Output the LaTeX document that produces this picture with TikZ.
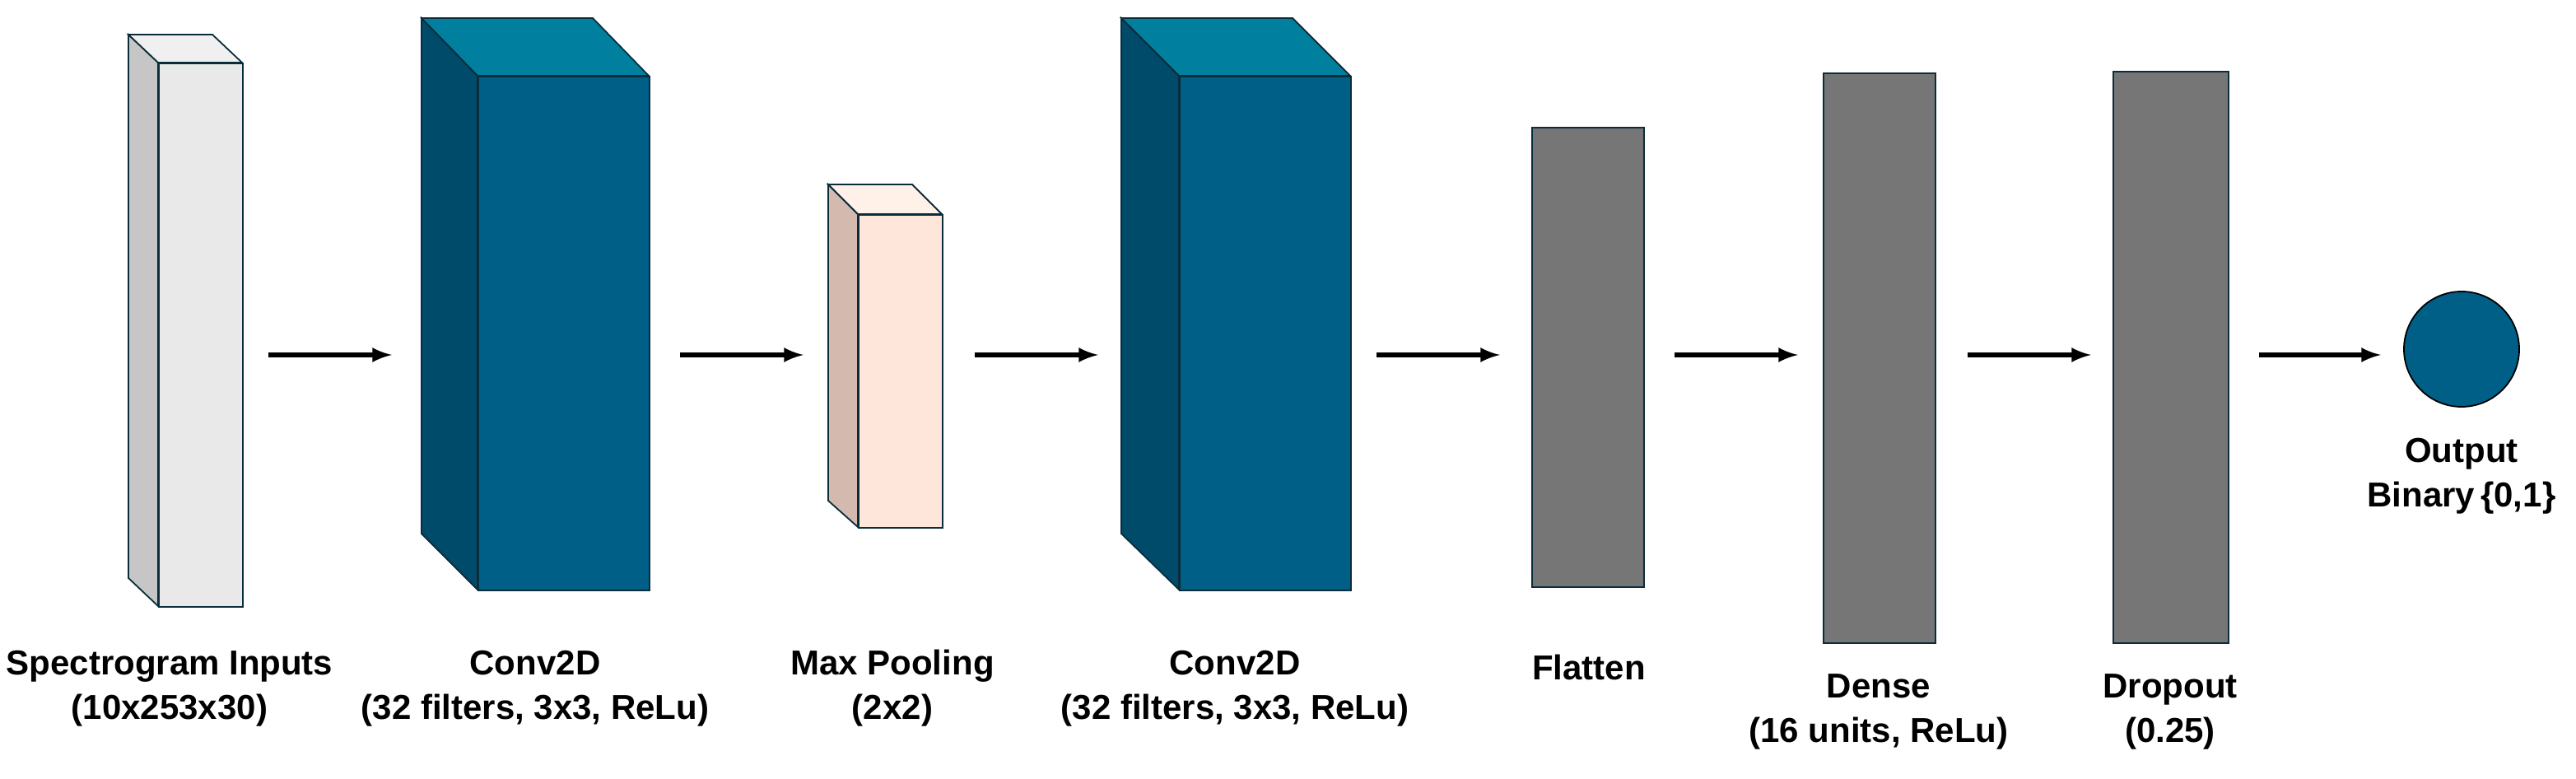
\documentclass[tikz,border=0pt]{standalone}
\usepackage{fontspec}
\setmainfont{Liberation Sans}
\begin{document}
\begin{tikzpicture}[x=1pt,y=-1pt,
 face/.style={draw={rgb,255:red,10;green,45;blue,60},line width=0.9pt},
 lbl/.style={font=\bfseries\fontsize{21}{27}\selectfont,align=center,anchor=center},
 arr/.style={-latex,line width=3pt}]
\definecolor{tf}{HTML}{00809E}\definecolor{ff}{HTML}{005F86}\definecolor{sf}{HTML}{004A6A}
\definecolor{gr}{HTML}{767676}
\useasboundingbox (0,0) rectangle (1564.5,473);
% input
\fill[gray!45,face] (78,21) -- (96,38) -- (96,368) -- (78,351) -- cycle;
\fill[gray!12,face] (78,21) -- (129,21) -- (147,38) -- (96,38) -- cycle;
\node[face,fill=gray!17,minimum width=51pt,minimum height=330pt,inner sep=0,anchor=north west] (in) at (96,38) {};
% conv1
\fill[sf,face] (256,11) -- (290,46) -- (290,358) -- (256,324) -- cycle;
\fill[tf,face] (256,11) -- (360,11) -- (394,46) -- (290,46) -- cycle;
\node[face,fill=ff,minimum width=104pt,minimum height=312pt,inner sep=0,anchor=north west] (c1) at (290,46) {};
% maxpool
\fill[fill={rgb,255:red,212;green,185;blue,175},face] (503,112) -- (521,130) -- (521,320) -- (503,304) -- cycle;
\fill[fill={rgb,255:red,255;green,240;blue,232},face] (503,112) -- (554,112) -- (572,130) -- (521,130) -- cycle;
\node[face,fill={rgb,255:red,255;green,230;blue,218},minimum width=51pt,minimum height=190pt,inner sep=0,anchor=north west] (mp) at (521,130) {};
% conv2
\fill[sf,face] (681,11) -- (716,46) -- (716,358) -- (681,324) -- cycle;
\fill[tf,face] (681,11) -- (785,11) -- (820,46) -- (716,46) -- cycle;
\node[face,fill=ff,minimum width=104pt,minimum height=312pt,inner sep=0,anchor=north west] (c2) at (716,46) {};
% flatten dense dropout
\node[face,fill=gr,minimum width=68pt,minimum height=279pt,inner sep=0,anchor=north west] (fl) at (930,77) {};
\node[face,fill=gr,minimum width=68pt,minimum height=346pt,inner sep=0,anchor=north west] (de) at (1107,44) {};
\node[face,fill=gr,minimum width=70pt,minimum height=347pt,inner sep=0,anchor=north west] (dr) at (1283,43) {};
\node[draw=black,line width=0.9pt,fill=ff,circle,minimum size=70pt,inner sep=0] (out) at (1495,212) {};
% arrows
\coordinate (a1s) at (163,215.5); \coordinate (a1e) at (238,215.5);
\coordinate (a2s) at (413,215.5); \coordinate (a2e) at (488,215.5);
\coordinate (a3s) at (592,215.5); \coordinate (a3e) at (667,215.5);
\coordinate (a4s) at (836,215.5); \coordinate (a4e) at (911,215.5);
\coordinate (a5s) at (1017,215.5); \coordinate (a5e) at (1092,215.5);
\coordinate (a6s) at (1195,215.5); \coordinate (a6e) at (1270,215.5);
\coordinate (a7s) at (1372,215.5); \coordinate (a7e) at (1446,215.5);
\foreach \i in {1,...,7} \draw[arr] (a\i s) -- (a\i e);
% labels
\node[lbl] (l1) at (103,418) {Spectrogram Inputs\\(10x253x30)};
\node[lbl] (l2) at (325,418) {Conv2D\\(32 filters, 3x3, ReLu)};
\node[lbl] (l3) at (542,418) {Max Pooling\\(2x2)};
\node[lbl] (l4) at (750,418) {Conv2D\\(32 filters, 3x3, ReLu)};
\node[lbl] (l5) at (965,405) {Flatten};
\node[lbl] (l6) at (1141,432) {Dense\\(16 units, ReLu)};
\node[lbl] (l7) at (1318,432) {Dropout\\(0.25)};
\node[lbl] (l8) at (1495,289) {Output\\Binary\,\{0,1\}};
\end{tikzpicture}
\end{document}
